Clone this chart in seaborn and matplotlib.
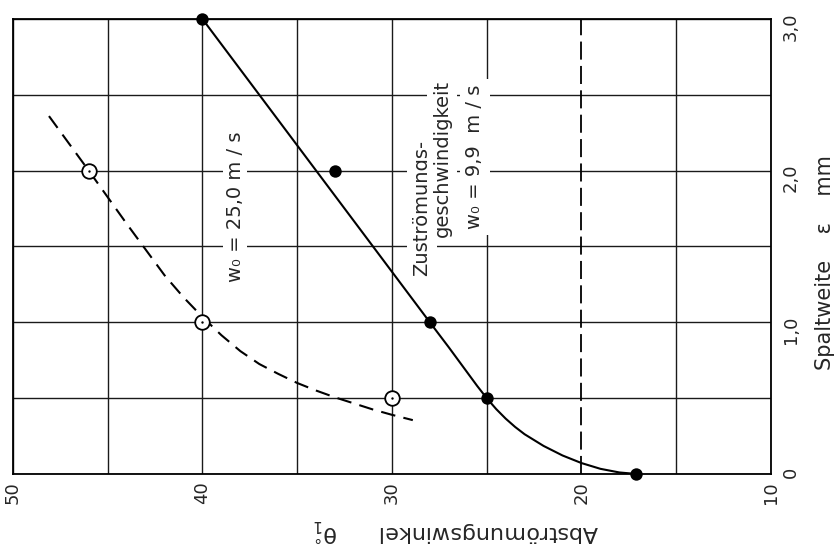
import numpy as np
import pandas as pd
import matplotlib
matplotlib.use("Agg")
import matplotlib.pyplot as plt
import seaborn as sns

# measured points (Abströmungswinkel theta in deg, Spaltweite eps in mm)
theta_filled = [40.0, 33.0, 28.0, 25.0, 17.1]
eps_filled = [3.0, 2.0, 1.0, 0.5, 0.0]

theta_open = [46.0, 40.0, 30.0]
eps_open = [2.0, 1.0, 0.5]

# curve for w0 = 9,9 m/s (solid)
theta_solid = [40.0, 37.0, 34.0, 31.0, 28.0, 27.0, 26.0, 25.5, 25.0, 24.5, 24.0,
               23.5, 23.0, 22.0, 21.0, 20.0, 19.0, 18.0, 17.1]
eps_solid = [3.0, 2.5, 2.0, 1.5, 1.0, 0.835, 0.665, 0.58, 0.5, 0.428, 0.365,
             0.31, 0.262, 0.185, 0.122, 0.072, 0.034, 0.01, 0.0]

# curve for w0 = 25,0 m/s (dashed)
theta_dash = [48.1, 46.0, 44.0, 42.0, 41.0, 40.0, 39.0, 38.0, 37.0, 36.0, 35.0,
              34.0, 33.0, 32.0, 31.0, 30.0, 28.9]
eps_dash = [2.36, 2.0, 1.65, 1.31, 1.165, 1.035, 0.915, 0.81, 0.725, 0.66, 0.60,
            0.55, 0.505, 0.465, 0.425, 0.39, 0.355]

ref_theta = 20.0

x_ticks = [50, 45, 40, 35, 30, 25, 20, 15, 10]
x_labels = ["50", "", "40", "", "30", "", "20", "", "10"]
y_ticks = [0.0, 0.5, 1.0, 1.5, 2.0, 2.5, 3.0]
y_labels = ["0", "", "1,0", "", "2,0", "", "3,0"]

sns.set_style("white")
plt.rcParams['font.family'] = ['DejaVu Sans']
plt.rcParams['mathtext.default'] = 'regular'

fig = plt.figure(figsize=(8.37, 5.53), dpi=100)
ax = fig.add_axes([0.0155, 0.1429, 0.9056, 0.8227])

# grid
ax.set_xticks(x_ticks)
ax.set_xticklabels(x_labels)
ax.set_yticks(y_ticks)
ax.set_yticklabels(y_labels)
ax.grid(True, color='#1a1a1a', linewidth=1.0)
ax.set_axisbelow(True)
ax.set_xlim(50, 10)
ax.set_ylim(0, 3.0)
for sp in ax.spines.values():
    sp.set_color('black')
    sp.set_linewidth(1.3)
# the 20 deg grid line is replaced by the dashed reference line
ax.get_xgridlines()[x_ticks.index(20)].set_visible(False)

# reference line at 20 deg
ax.plot([ref_theta, ref_theta], [0, 3.0], color='black', linewidth=1.3,
        linestyle=(0, (10, 3.5)), zorder=2)

curves = pd.DataFrame({'theta': theta_solid, 'eps': eps_solid})
sns.lineplot(data=curves, x='theta', y='eps', sort=False, estimator=None,
             color='black', linewidth=1.5, ax=ax, zorder=3)
dcurve = pd.DataFrame({'theta': theta_dash, 'eps': eps_dash})
sns.lineplot(data=dcurve, x='theta', y='eps', sort=False, estimator=None,
             color='black', linewidth=1.5, linestyle=(0, (7, 4)), ax=ax, zorder=3)

sns.scatterplot(x=theta_filled, y=eps_filled, color='black', s=80,
                edgecolor='black', linewidth=0, ax=ax, zorder=5, clip_on=False)
sns.scatterplot(x=theta_open, y=eps_open, color='white', s=110,
                edgecolor='black', linewidth=1.3, ax=ax, zorder=5, clip_on=False)
sns.scatterplot(x=theta_open, y=eps_open, color='black', s=3,
                linewidth=0, ax=ax, zorder=6, clip_on=False)

# annotations
box = dict(facecolor='white', edgecolor='none', pad=2)
ax.text(38.28, 1.76, "w₀ = 25,0 m / s", rotation=90, ha='center', va='center',
        fontsize=14, bbox=box, zorder=4)
ax.text(28.42, 1.754, "Zuströmungs-", rotation=90, ha='center', va='center',
        fontsize=14, bbox=dict(facecolor='white', edgecolor='none', pad=4), zorder=4)
ax.text(27.36, 2.083, "geschwindigkeit", rotation=90, ha='center', va='center',
        fontsize=14, bbox=dict(facecolor='white', edgecolor='none', pad=4), zorder=4)
ax.text(25.62, 2.09, "w₀ = 9,9  m / s", rotation=90, ha='center', va='center',
        fontsize=14, bbox=dict(facecolor='white', edgecolor='none', pad=4), zorder=4)

# axes labels
ax.tick_params(axis='x', length=0, pad=5, labelsize=13, labelrotation=90)
ax.yaxis.tick_right()
ax.tick_params(axis='y', length=0, pad=8, labelsize=13, labelrotation=90)
ax.set_xlabel("Abströmungswinkel      $\\theta_1^{\\circ}$", fontsize=16,
              rotation=180, va='center')
ax.xaxis.set_label_coords(0.584, -0.123)
ax.yaxis.set_label_position('right')
ax.set_ylabel("Spaltweite    ε    mm", fontsize=15, rotation=90, va='center')
ax.yaxis.set_label_coords(1.0712, 0.464)

plt.savefig('out.png', dpi=100)
